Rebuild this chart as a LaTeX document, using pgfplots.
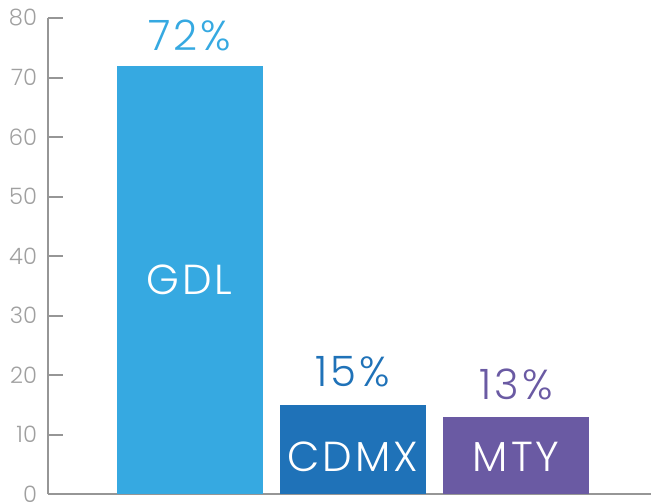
\documentclass[border=0pt]{standalone}
\usepackage{fontspec}
\setmainfont{Poppins}[UprightFont={* Light}]
\usepackage{pgfplots}
\pgfplotsset{compat=1.18}
\definecolor{cgdl}{RGB}{54,169,225}
\definecolor{ccdmx}{RGB}{31,114,184}
\definecolor{cmty}{RGB}{106,90,163}
\definecolor{caxis}{RGB}{150,150,150}
\definecolor{ctick}{RGB}{160,160,160}
\newcommand{\bigf}{\fontsize{31.5}{31.5}\selectfont\addfontfeature{LetterSpace=7}}
\begin{document}
\begin{tikzpicture}
\begin{axis}[
  scale only axis,
  width=453pt, height=357.75pt,
  xmin=48, xmax=652, ymin=0, ymax=80,
  axis x line*=bottom, axis y line*=left,
  axis line style={caxis, line width=1.5pt},
  xtick=\empty,
  ytick={0,10,...,80},
  tick align=inside,
  major tick length=11.25pt,
  tick style={caxis, line width=1.5pt},
  /pgf/number format/assume math mode=true,
  yticklabel style={font=\fontsize{17}{17}\selectfont, text=ctick, inner sep=0pt, xshift=-8pt},
  clip=false,
  enlargelimits=false,
]
\addplot[ybar, bar width=109.5pt, fill=cgdl, draw=none] coordinates {(190,72)};
\addplot[ybar, bar width=109.5pt, fill=ccdmx, draw=none] coordinates {(353.5,15)};
\addplot[ybar, bar width=109.5pt, fill=cmty, draw=none] coordinates {(517,13)};
\node[anchor=base, text=cgdl, font=\bigf] at (axis cs:190,74.6) {72\%};
\node[anchor=base, text=ccdmx, font=\bigf] at (axis cs:353.5,18.1) {15\%};
\node[anchor=base, text=cmty, font=\bigf] at (axis cs:517,15.9) {13\%};
\node[anchor=base, text=white, font=\bigf] at (axis cs:190,33.6) {GDL};
\node[anchor=base, text=white, font=\bigf] at (axis cs:353.5,3.9) {CDMX};
\node[anchor=base, text=white, font=\bigf] at (axis cs:517,3.9) {MTY};
\path[use as bounding box] (axis cs:0,-1.342) rectangle (axis cs:652,83.02);
\end{axis}
\end{tikzpicture}
\end{document}
